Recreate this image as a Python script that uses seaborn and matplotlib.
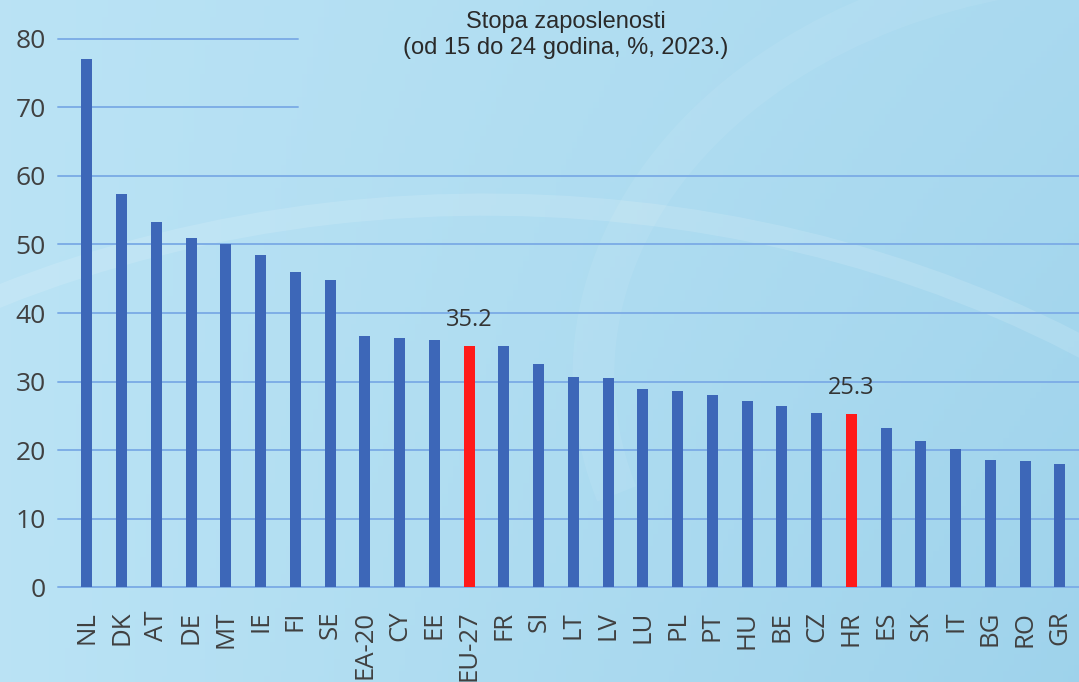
import matplotlib
matplotlib.use('Agg')
import matplotlib.pyplot as plt
import matplotlib.patches as mpatches
import numpy as np
import pandas as pd
import seaborn as sns

# data
countries = ['NL', 'DK', 'AT', 'DE', 'MT', 'IE', 'FI', 'SE', 'EA-20', 'CY', 'EE', 'EU-27',
             'FR', 'SI', 'LT', 'LV', 'LU', 'PL', 'PT', 'HU', 'BE', 'CZ', 'HR', 'ES', 'SK',
             'IT', 'BG', 'RO', 'GR']
rates = [77.1, 57.3, 53.3, 51.0, 50.0, 48.4, 46.0, 44.8, 36.6, 36.3, 36.0, 35.2,
         35.2, 32.5, 30.6, 30.5, 28.9, 28.6, 28.0, 27.1, 26.4, 25.4, 25.3, 23.3, 21.4,
         20.2, 18.5, 18.4, 18.0]
highlight = {'EU-27': '35.2', 'HR': '25.3'}
y_ticks = [0, 10, 20, 30, 40, 50, 60, 70, 80]

df = pd.DataFrame({'country': countries, 'rate': rates})
blue = '#3d67b8'
red = '#ff1a1a'
palette = {c: (red if c in highlight else blue) for c in countries}

sns.set_style('white')
plt.rcParams['font.family'] = ['Open Sans', 'DejaVu Sans']

fig = plt.figure(figsize=(10.79, 6.82), dpi=100)

# background gradient + faint swirl
bg = fig.add_axes([0, 0, 1, 1], zorder=0)
xx, yy = np.meshgrid(np.linspace(0, 1, 200), np.linspace(0, 1, 120))
light = np.array([0.73, 0.89, 0.96])
dark = np.array([0.61, 0.82, 0.92])
t = np.clip(0.55 * xx + 0.35 * yy * xx, 0, 1)[..., None]
img = light * (1 - t) + dark * t
bg.imshow(img, extent=[0, 1, 0, 1], aspect='auto', origin='upper')
bg.add_patch(mpatches.Arc((0.45, -0.55), 2.0, 2.5, theta1=30, theta2=170,
                          color='white', alpha=0.13, lw=16, transform=bg.transAxes))
bg.add_patch(mpatches.Arc((1.05, 0.45), 1.0, 1.2, theta1=90, theta2=200,
                          color='white', alpha=0.07, lw=30, transform=bg.transAxes))
bg.set_xlim(0, 1)
bg.set_ylim(0, 1)
bg.axis('off')

ax = fig.add_axes([0.0538, 0.139, 0.9462, 0.804], zorder=1)
ax.set_facecolor('none')

# grid lines (the top two stop short under the title)
for v in y_ticks:
    if v >= 70:
        ax.axhline(v, xmin=0, xmax=0.235, color='#7eaee6', lw=1.4, zorder=0, clip_on=False)
    else:
        ax.axhline(v, color='#7eaee6', lw=1.4, zorder=0, clip_on=False)

sns.barplot(data=df, x='country', y='rate', hue='country', palette=palette,
            width=0.32, legend=False, ax=ax, zorder=2, saturation=1, linewidth=0)

for i, c in enumerate(countries):
    if c in highlight:
        ax.text(i, rates[i] + 2.0, highlight[c], ha='center', va='bottom',
                fontsize=17, color='#333333')

ax.set_xlim(-0.83, 28.55)
ax.set_ylim(0, 80)
ax.set_yticks(y_ticks)
ax.tick_params(axis='y', labelsize=19, labelcolor='#404040', length=0, pad=9)
ax.tick_params(axis='x', labelsize=18.5, labelcolor='#404040', length=0, pad=17,
               labelrotation=90)
ax.set_xlabel('')
ax.set_ylabel('')
for s in ax.spines.values():
    s.set_visible(False)

fig.text(0.524, 0.949, 'Stopa zaposlenosti\n(od 15 do 24 godina, %, 2023.)',
         ha='center', va='center', fontsize=17, color='#2a2a2a',
         family=['Liberation Sans', 'DejaVu Sans'], linespacing=1.25)

fig.savefig('out.png', dpi=100)
